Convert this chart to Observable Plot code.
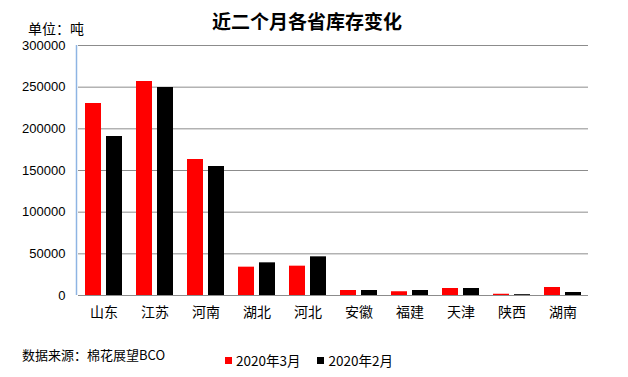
<!DOCTYPE html>
<html>
<head>
<meta charset="utf-8">
<script src="https://cdn.jsdelivr.net/npm/d3@7"></script>
<script src="https://cdn.jsdelivr.net/npm/@observablehq/plot@0.6"></script>
<style>
  body { margin: 0; background: #fff; }
  #wrap { position: relative; width: 628px; height: 377px; overflow: hidden; font-family: "Noto Sans CJK SC", "Liberation Sans", sans-serif; background: #fff; }
  #title { position: absolute; left: 0; width: 614px; top: 7px; line-height: 28px; text-align: center; font-size: 19px; font-weight: bold; color: #000; z-index: 2; }
  #unit { position: absolute; left: 28px; top: 18px; line-height: 20px; font-size: 14px; color: #000; z-index: 2; }
  #chart { position: absolute; left: 0; top: 38px; z-index: 1; }
  #source { position: absolute; left: 22px; top: 345px; font-size: 13px; color: #000; }
  #legend { position: absolute; left: 225px; top: 350px; font-size: 13.5px; color: #000; display: flex; align-items: center; }
  #legend .sw { display: inline-block; width: 7px; height: 7px; margin-right: 4px; }
  #legend .item { display: flex; align-items: center; margin-right: 17px; }
</style>
</head>
<body>
<div id="wrap">
  <div id="title">近二个月各省库存变化</div>
  <div id="unit">单位：吨</div>
  <div id="chart"></div>
  <div id="source">数据来源：棉花展望BCO</div>
  <div id="legend"></div>
</div>
<script>
const provinces = ["山东", "江苏", "河南", "湖北", "河北", "安徽", "福建", "天津", "陕西", "湖南"];
const seriesNames = ["2020年3月", "2020年2月"];
const seriesColors = ["#ff0000", "#000000"];
const march = [230400, 256800, 163200, 34000, 35200, 6000, 4500, 8400, 1500, 9600];
const february = [190800, 249600, 154800, 39200, 46400, 6000, 6000, 8400, 1000, 3600];
const yTicks = [0, 50000, 100000, 150000, 200000, 250000, 300000];

const data = [];
provinces.forEach((p, i) => {
  data.push({province: p, series: seriesNames[0], value: march[i]});
  data.push({province: p, series: seriesNames[1], value: february[i]});
});

const chart = Plot.plot({
  width: 628,
  height: 292,
  marginLeft: 77,
  marginRight: 39,
  marginTop: 7,
  marginBottom: 35,
  style: {fontFamily: "'Liberation Sans', 'Noto Sans CJK SC', sans-serif", fontSize: "13px", color: "#000", background: "transparent"},
  fx: {domain: provinces, paddingInner: 0, paddingOuter: 0, label: null, axis: "bottom", tickSize: 0, tickPadding: 12},
  x: {domain: seriesNames, paddingInner: 0.25, paddingOuter: 0.29, axis: null},
  y: {domain: [0, 300000], ticks: yTicks, label: null, tickSize: 0, tickPadding: 13, tickFormat: d => String(d)},
  color: {domain: seriesNames, range: seriesColors},
  marks: [
    Plot.ruleY(yTicks.filter(d => d > 0), {stroke: "#8c8c8c", strokeWidth: 1}),
    Plot.ruleY([0], {stroke: "#8c8c8c", strokeWidth: 1}),
    Plot.barY(data, {fx: "province", x: "series", y: "value", fill: "series"}),
  ]
});

chart.querySelectorAll("g[aria-label='fx-axis tick label'] text, g[aria-label='fx-axis'] text").forEach(t => {
  t.setAttribute("font-family", "'Noto Sans CJK SC', sans-serif");
  t.setAttribute("font-size", "14px");
});
document.getElementById("chart").appendChild(chart);

const ys = chart.scale("y");
const svg = d3.select(chart.tagName.toLowerCase() === "svg" ? chart : chart.querySelector("svg"));
svg.append("line")
  .attr("x1", 76.5).attr("x2", 76.5)
  .attr("y1", ys.apply(300000)).attr("y2", ys.apply(0))
  .attr("stroke", "#8eb4e3").attr("stroke-width", 1.5);

const legend = document.getElementById("legend");
seriesNames.forEach((s, i) => {
  const item = document.createElement("span");
  item.className = "item";
  const sw = document.createElement("span");
  sw.className = "sw";
  sw.style.background = seriesColors[i];
  item.appendChild(sw);
  item.appendChild(document.createTextNode(s));
  legend.appendChild(item);
});
</script>
</body>
</html>
